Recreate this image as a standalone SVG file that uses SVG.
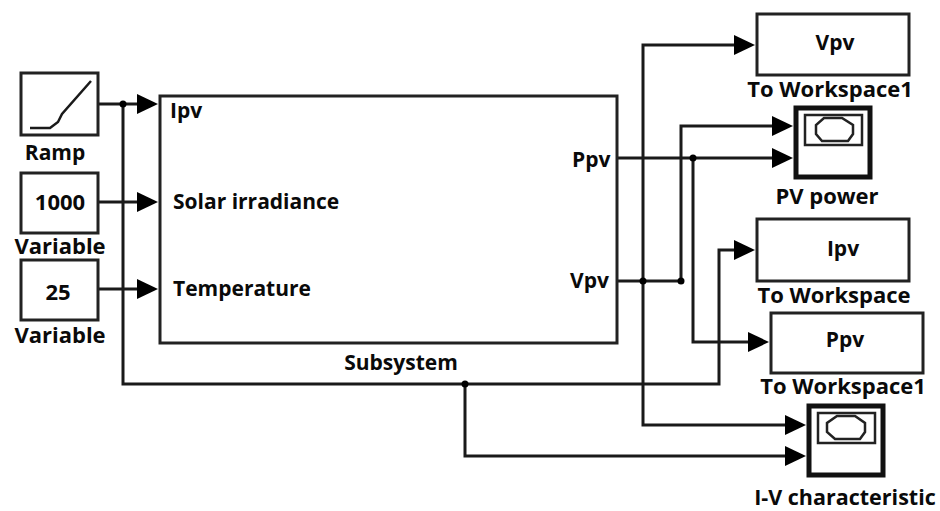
<svg xmlns="http://www.w3.org/2000/svg" width="940" height="511" viewBox="0 0 940 511">
<style>
text{font-family:"Open Sans","Noto Sans","Liberation Sans",sans-serif;font-weight:700;font-size:21px;fill:#0a0a0a}
.m{text-anchor:middle}
.l{font-size:22px}
.b{fill:#fff;stroke:#222;stroke-width:3}
.s{fill:#fff;stroke:#111;stroke-width:5}
.i{fill:none;stroke:#222;stroke-width:2.5}
.w{fill:none;stroke:#1a1a1a;stroke-width:3}
.r{fill:none;stroke:#1a1a1a;stroke-width:2.5}
.a{fill:#000}
.d{fill:#000}
</style>
<defs>
<path id="ah" class="a" d="M-21-10L0 0L-21 10Z"/>
</defs>
<g id="connectors">
<path class="w" d="M98 104H140M98 202H140M98 289H140M123 104V384H719V250H740"/>
<path class="w" d="M617 158H775M617 281H681V126H775M643 281V45H738M643 281V425H788M693 158V342H751M465 384V456H788"/>
<circle class="d" cx="123" cy="104" r="3.5"/><circle class="d" cx="693" cy="158" r="3.5"/><circle class="d" cx="643" cy="281" r="3.5"/><circle class="d" cx="681" cy="281" r="3.5"/><circle class="d" cx="465" cy="384" r="3.5"/>
<use href="#ah" x="158" y="104"/><use href="#ah" x="158" y="202"/><use href="#ah" x="158" y="289"/>
<use href="#ah" x="755" y="45"/><use href="#ah" x="793" y="126"/><use href="#ah" x="793" y="158"/><use href="#ah" x="755" y="250"/><use href="#ah" x="769" y="342"/><use href="#ah" x="806" y="425"/><use href="#ah" x="806" y="456"/>
</g>
<g id="ramp"><rect class="b" x="21" y="73" width="77" height="62"/><path class="r" d="M30 128H50L58 122L62 114L91 81"/><text class="m" x="55" y="160">Ramp</text></g>
<g id="const1000"><rect class="b" x="21" y="173" width="77" height="60"/><text class="m l" x="60" y="210">1000</text><text class="m l" x="60" y="254">Variable</text></g>
<g id="const25"><rect class="b" x="21" y="260" width="77" height="60"/><text class="m l" x="58" y="300">25</text><text class="m l" x="60" y="343">Variable</text></g>
<g id="subsystem"><rect class="b" x="160" y="96" width="457" height="247"/>
<text x="170" y="118">Ipv</text><text x="173" y="209">Solar irradiance</text><text x="173" y="296">Temperature</text><text x="572" y="167">Ppv</text><text x="570" y="288">Vpv</text><text class="m" x="401" y="370">Subsystem</text></g>
<g id="toVpv"><rect class="b" x="757" y="14" width="152" height="61"/><text class="m" x="835" y="50">Vpv</text><text class="m l" x="830" y="97">To Workspace1</text></g>
<g id="pvPower"><rect class="s" x="796" y="108" width="74" height="69"/><rect class="i" x="805" y="115" width="57" height="30"/><path class="i" d="M824 118H842L853 125V134L848 141H822L816 134V125Z"/><text class="m l" x="827" y="204">PV power</text></g>
<g id="toIpv"><rect class="b" x="757" y="219" width="152" height="62"/><text class="m" x="843" y="256">Ipv</text><text class="m l" x="834" y="303">To Workspace</text></g>
<g id="toPpv"><rect class="b" x="771" y="313" width="152" height="60"/><text class="m" x="845" y="347">Ppv</text><text class="m l" x="843" y="394">To Workspace1</text></g>
<g id="ivChar"><rect class="s" x="809" y="406" width="74" height="69"/><rect class="i" x="818" y="413" width="57" height="30"/><path class="i" d="M837 416H855L865 423V432L860 439H835L827 432V423Z"/><text class="m" x="845" y="505" style="font-size:21.5px">I-V characteristic</text></g>
</svg>
